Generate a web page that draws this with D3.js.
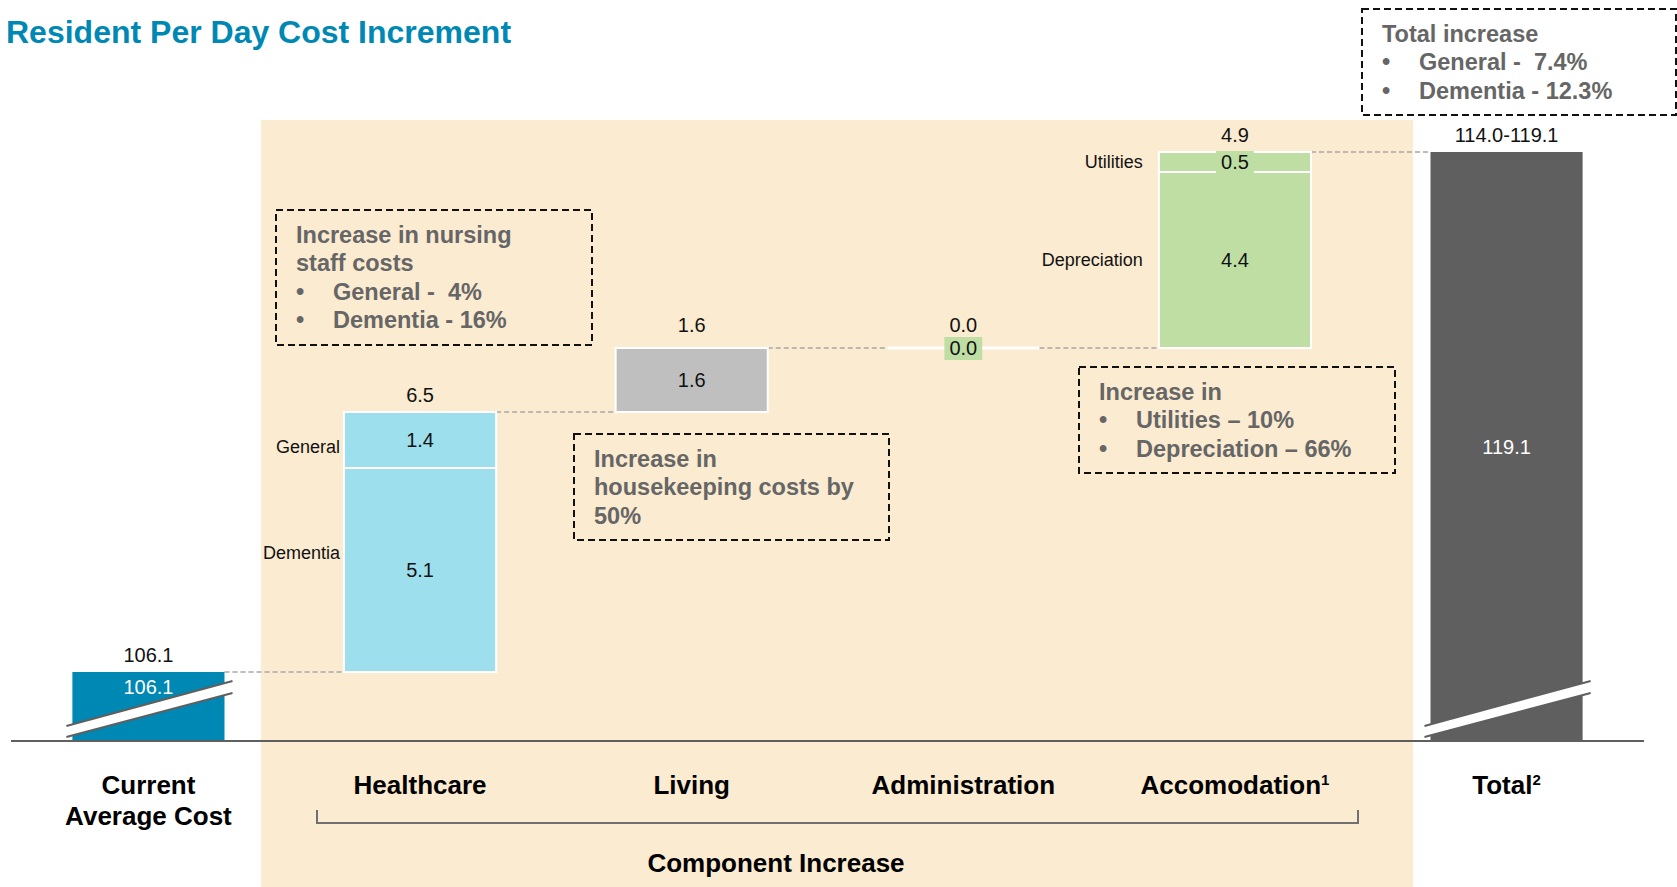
<!DOCTYPE html>
<html>
<head>
<meta charset="utf-8">
<title>Resident Per Day Cost Increment</title>
<script src="https://d3js.org/d3.v7.min.js"></script>
<style>
  body { margin: 0; background: #fff; }
  svg { display: block; font-family: "Liberation Sans", Arial, sans-serif; }
  text { white-space: pre; }
</style>
</head>
<body>
<svg id="chart" width="1677" height="887"></svg>
<script>
// categories along the x axis
const categories = ["Current Average Cost", "Healthcare", "Living", "Administration", "Accomodation", "Total"];
const categoryLines = [["Current", "Average Cost"], ["Healthcare"], ["Living"], ["Administration"], ["Accomodation"], ["Total"]];
const categoryNotes = ["", "", "", "", "1", "2"];
const categoryColor = ["#0088b4", "#9ddfec", "#bfbfbf", "#bfdea4", "#bfdea4", "#5f5f5f"];

// start / end values
const startValue = 106.1;
const endValue = 119.1;
const endLabel = "114.0-119.1";

// component increases (stacked, bottom to top)
const segCategory = ["Healthcare", "Healthcare", "Living", "Administration", "Accomodation", "Accomodation"];
const segName = ["Dementia", "General", "", "", "Depreciation", "Utilities"];
const segValue = [5.1, 1.4, 1.6, 0.0, 4.4, 0.5];

// call-out texts
const noteNursing = [["", "Increase in nursing"], ["", "staff costs"], ["•", "General -  4%"], ["•", "Dementia - 16%"]];
const noteTotal = [["", "Total increase"], ["•", "General -  7.4%"], ["•", "Dementia - 12.3%"]];
const noteLiving = [["", "Increase in"], ["", "housekeeping costs by"], ["", "50%"]];
const noteAccom = [["", "Increase in"], ["•", "Utilities – 10%"], ["•", "Depreciation – 66%"]];

const svg = d3.select("#chart");
const baseY = 741;

const x = d3.scaleBand()
  .domain(categories)
  .range([11, 1644])
  .paddingInner(0.44)
  .paddingOuter(0.226);

// broken axis: the floor of the plot stands for 104.375
const y = d3.scaleLinear()
  .domain([104.375, endValue])
  .range([baseY, 152]);

const bw = x.bandwidth();
const colorOf = c => categoryColor[categories.indexOf(c)];

// title
svg.append("text")
  .attr("x", 6).attr("y", 43)
  .attr("font-size", 32).attr("font-weight", "bold")
  .attr("fill", "#0088b4")
  .text("Resident Per Day Cost Increment");

// beige panel behind the components
svg.append("rect")
  .attr("x", 261).attr("y", 120)
  .attr("width", 1152).attr("height", 767)
  .attr("fill", "#fbebd1");

// build stacked segments
let running = startValue;
const segs = segValue.map((v, i) => {
  const s = { cat: segCategory[i], name: segName[i], value: v, from: running, to: running + v };
  running += v;
  return s;
});
const compCats = categories.slice(1, -1);
const catTop = {};
const catBottom = {};
compCats.forEach(c => {
  const ss = segs.filter(s => s.cat === c);
  catBottom[c] = d3.min(ss, s => s.from);
  catTop[c] = d3.max(ss, s => s.to);
});

// connectors
const steps = [
  [categories[0], startValue],
  ...compCats.map(c => [c, catTop[c]])
];
steps.forEach((s, i) => {
  const next = categories[i + 1];
  svg.append("line")
    .attr("x1", x(s[0]) + bw).attr("x2", x(next))
    .attr("y1", y(s[1])).attr("y2", y(s[1]))
    .attr("stroke", "#a6a6a6").attr("stroke-width", 1.5)
    .attr("stroke-dasharray", "5,3");
});

// start and end bars
const ends = [
  { cat: categories[0], value: startValue },
  { cat: categories[5], value: endValue }
];
svg.selectAll(".endbar").data(ends).enter().append("rect")
  .attr("class", "endbar")
  .attr("x", d => x(d.cat))
  .attr("y", d => y(d.value))
  .attr("width", bw)
  .attr("height", d => baseY - y(d.value))
  .attr("fill", d => colorOf(d.cat));

// component segments
svg.selectAll(".seg").data(segs.filter(d => d.value > 0)).enter().append("rect")
  .attr("class", "seg")
  .attr("x", d => x(d.cat))
  .attr("y", d => y(d.to))
  .attr("width", bw)
  .attr("height", d => y(d.from) - y(d.to))
  .attr("fill", d => colorOf(d.cat))
  .attr("stroke", "#fff").attr("stroke-width", 2);

// zero-size components show as a white line
svg.selectAll(".zero").data(segs.filter(d => d.value === 0)).enter().append("line")
  .attr("class", "zero")
  .attr("x1", d => x(d.cat)).attr("x2", d => x(d.cat) + bw)
  .attr("y1", d => y(d.to)).attr("y2", d => y(d.to))
  .attr("stroke", "#fff").attr("stroke-width", 3);

// axis line
svg.append("line")
  .attr("x1", 11).attr("x2", 1644)
  .attr("y1", baseY).attr("y2", baseY)
  .attr("stroke", "#5f5f5f").attr("stroke-width", 2);

// break marks on the start and end bars
ends.forEach(d => {
  const x0 = x(d.cat) - 6, x1 = x(d.cat) + bw + 8;
  svg.append("polygon")
    .attr("points", [[x0, baseY - 15], [x1, baseY - 60], [x1, baseY - 48], [x0, baseY - 4]].join(" "))
    .attr("fill", "#fff");
  [[-15, -60], [-4, -48]].forEach(o => {
    svg.append("line")
      .attr("x1", x0).attr("y1", baseY + o[0])
      .attr("x2", x1).attr("y2", baseY + o[1])
      .attr("stroke", "#5f5f5f").attr("stroke-width", 2);
  });
});

// value labels above bars
const tops = [
  { cat: categories[0], v: startValue, label: startValue.toFixed(1) },
  ...compCats.map(c => ({ cat: c, v: catTop[c], label: (catTop[c] - catBottom[c]).toFixed(1) })),
  { cat: categories[5], v: endValue, label: endLabel }
];
svg.selectAll(".toplabel").data(tops).enter().append("text")
  .attr("class", "toplabel")
  .attr("x", d => x(d.cat) + bw / 2)
  .attr("y", d => y(d.v) - (d.cat === "Administration" || d.cat === "Living" ? 16 : 10))
  .attr("text-anchor", "middle")
  .attr("font-size", 20).attr("fill", "#111")
  .text(d => d.label);

// labels inside start and end bars
svg.append("text")
  .attr("x", x(categories[0]) + bw / 2).attr("y", y(startValue) + 22)
  .attr("text-anchor", "middle").attr("font-size", 20).attr("fill", "#fff")
  .text(startValue.toFixed(1));
svg.append("text")
  .attr("x", x(categories[5]) + bw / 2).attr("y", (y(endValue) + baseY) / 2)
  .attr("dy", "0.35em")
  .attr("text-anchor", "middle").attr("font-size", 20).attr("fill", "#fff")
  .text(endValue.toFixed(1));

// side-label nudges, as placed in the original slide
const sideShift = { General: 7, Dementia: -17 };

// labels inside segments, on a patch of the segment colour
segs.forEach(s => {
  const cx = x(s.cat) + bw / 2;
  const cy = (y(s.from) + y(s.to)) / 2;
  const g = svg.append("g");
  const t = g.append("text")
    .attr("x", cx).attr("y", cy).attr("dy", "0.35em")
    .attr("text-anchor", "middle").attr("font-size", 20).attr("fill", "#111")
    .text(s.value.toFixed(1));
  const b = t.node().getBBox();
  g.insert("rect", "text")
    .attr("x", b.x - 5).attr("y", b.y)
    .attr("width", b.width + 10).attr("height", b.height + 1)
    .attr("fill", colorOf(s.cat));
  if (s.name) {
    const gap = s.cat === "Healthcare" ? 4 : 16;
    svg.append("text")
      .attr("x", x(s.cat) - gap).attr("y", cy + (sideShift[s.name] || 0)).attr("dy", "0.35em")
      .attr("text-anchor", "end").attr("font-size", 18).attr("fill", "#111")
      .text(s.name);
  }
});

// category labels
categories.forEach((c, i) => {
  const t = svg.append("text")
    .attr("x", x(c) + bw / 2).attr("y", 794)
    .attr("text-anchor", "middle").attr("font-size", 26).attr("font-weight", "bold")
    .attr("fill", "#000");
  categoryLines[i].forEach((line, j) => {
    t.append("tspan")
      .attr("x", x(c) + bw / 2).attr("dy", j === 0 ? 0 : 31)
      .text(line);
  });
  if (categoryNotes[i]) {
    t.append("tspan")
      .attr("font-size", 15).attr("dy", -9)
      .text(categoryNotes[i]);
  }
});

// bracket under the components
svg.append("path")
  .attr("d", "M317,810V823H1358V810")
  .attr("fill", "none").attr("stroke", "#707070").attr("stroke-width", 2);
svg.append("text")
  .attr("x", 776).attr("y", 872)
  .attr("text-anchor", "middle").attr("font-size", 26).attr("font-weight", "bold")
  .text("Component Increase");

// dashed call-out boxes
function drawNote(bx, by, w, h, lines) {
  svg.append("rect")
    .attr("x", bx).attr("y", by).attr("width", w).attr("height", h)
    .attr("fill", "none").attr("stroke", "#111").attr("stroke-width", 2)
    .attr("stroke-dasharray", "7,4");
  lines.forEach((l, i) => {
    const ty = by + 33 + i * 28.3;
    if (l[0]) {
      svg.append("text").attr("x", bx + 20).attr("y", ty)
        .attr("font-size", 23.5).attr("font-weight", "bold").attr("fill", "#666")
        .text(l[0]);
    }
    svg.append("text").attr("x", bx + 20 + (l[0] ? 37 : 0)).attr("y", ty)
      .attr("font-size", 23.5).attr("font-weight", "bold").attr("fill", "#666")
      .text(l[1]);
  });
}
drawNote(276, 210, 316, 135, noteNursing);
drawNote(1362, 9, 314, 106, noteTotal);
drawNote(574, 434, 315, 106, noteLiving);
drawNote(1079, 367, 316, 106, noteAccom);
</script>
</body>
</html>
